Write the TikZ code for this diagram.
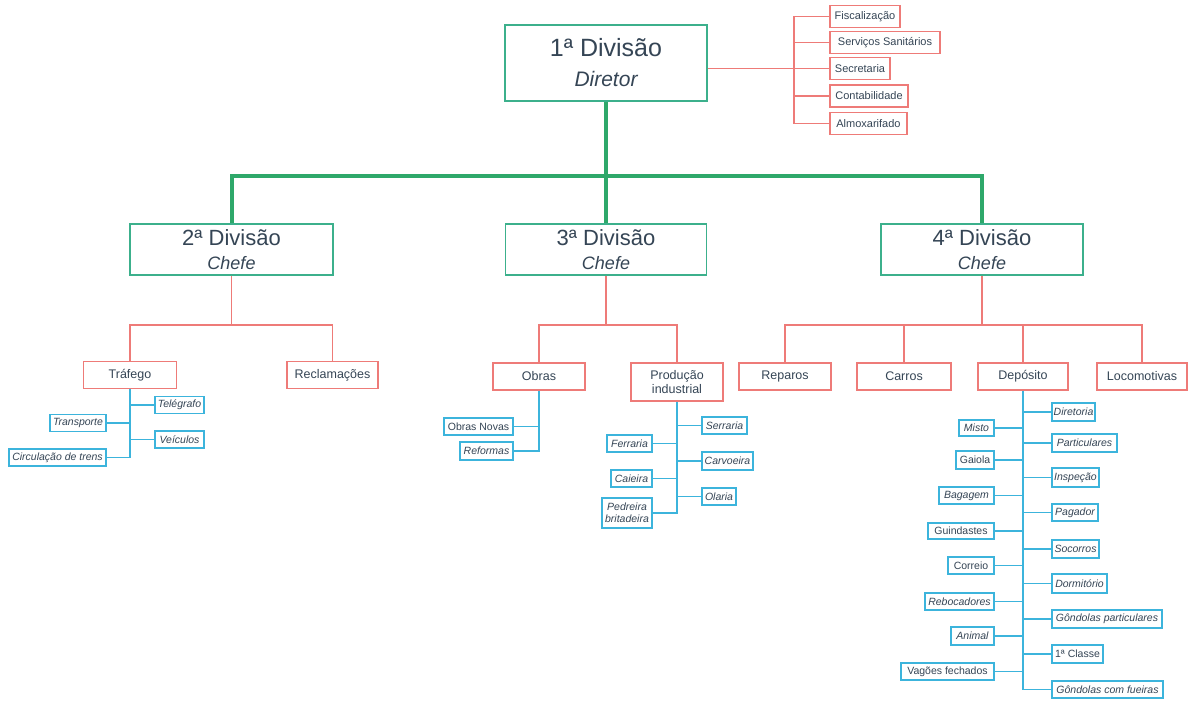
\documentclass[tikz,border=0pt]{standalone}
\usepackage{fontspec}
\setmainfont{Liberation Sans}
\definecolor{gline}{HTML}{2EA86A}
\definecolor{gbox}{HTML}{3CB08C}
\definecolor{redc}{HTML}{EE7B78}
\definecolor{bluec}{HTML}{3CB4DC}
\definecolor{txt}{HTML}{354555}
\tikzset{
  divbox/.style={draw=gbox, line width=1.2pt, fill=white, text=txt, align=center, inner sep=0pt},
  rbox/.style={draw=redc, line width=1.4pt, fill=white, text=txt, align=center, inner sep=0pt, minimum height=27pt, font=\fontsize{12.5}{14}\selectfont},
  sbox/.style={draw=redc, line width=1.2pt, fill=white, text=txt, inner sep=0pt, minimum height=22pt, font=\fontsize{11}{13}\selectfont},
  bx/.style={draw=bluec, line width=1.2pt, fill=white, text=txt, align=center, inner sep=0pt, minimum height=17pt, font=\fontsize{10.5}{12}\selectfont},
  it/.style={font=\fontsize{10.5}{12}\selectfont\itshape},
  gconn/.style={draw=gline, line width=4pt},
  rconn/.style={draw=redc, line width=1.5pt},
  bconn/.style={draw=bluec, line width=1.3pt},
}
\begin{document}
\begin{tikzpicture}[x=1pt,y=-1pt]
\useasboundingbox[fill=white] (0,0) rectangle (1189,705);
% top level
\node[divbox, minimum width=202pt, minimum height=76pt, font=\fontsize{25}{25}\selectfont] (b1) at (606,63)
  {1ª Divisão\\[5pt]{\fontsize{21}{21}\selectfont\itshape Diretor}};
\node[divbox, minimum width=203pt, minimum height=51pt, font=\fontsize{22}{22}\selectfont] (b2) at (231.5,249.5)
  {2ª Divisão\\[2pt]{\fontsize{18}{18}\selectfont\itshape Chefe}};
\node[divbox, minimum width=201pt, minimum height=51pt, font=\fontsize{22}{22}\selectfont] (b3) at (606,249.5)
  {3ª Divisão\\[2pt]{\fontsize{18}{18}\selectfont\itshape Chefe}};
\node[divbox, minimum width=202pt, minimum height=51pt, font=\fontsize{22}{22}\selectfont] (b4) at (982,249.5)
  {4ª Divisão\\[2pt]{\fontsize{18}{18}\selectfont\itshape Chefe}};
\coordinate (g1) at (606,176);
\draw[gconn] (b1.south) -- (g1);
\draw[gconn] (b2.north) |- (g1) -| (b4.north);
\draw[gconn] (g1) -- (b3.north);
% top right staff
\node[sbox, minimum width=70pt] (f1) at (865,16.5) {Fiscalização};
\node[sbox, minimum width=110pt] (f2) at (885,42.5) {Serviços Sanitários};
\node[sbox, minimum width=60pt] (f3) at (860,68.5) {Secretaria};
\node[sbox, minimum width=78pt] (f4) at (869,96) {Contabilidade};
\node[sbox, minimum width=77pt] (f5) at (868.5,123.5) {Almoxarifado};
\coordinate (sp) at (794,0);
\draw[rconn] (b1.east |- f3.west) -- (f3.west);
\draw[rconn] (f1.west) -- (f1.west -| sp) -- (f5.west -| sp) -- (f5.west);
\draw[rconn] (f2.west) -- (f2.west -| sp);
\draw[rconn] (f4.west) -- (f4.west -| sp);
% 2a division children
\node[rbox, minimum width=93pt] (traf) at (130,375) {Tráfego};
\node[rbox, minimum width=91pt] (recl) at (332.5,375) {Reclamações};
\coordinate (j2) at (231.5,325);
\draw[rconn] (b2.south) -- (j2);
\draw[rconn] (traf.north) |- (j2) -| (recl.north);
% 3a division children
\node[rbox, minimum width=92pt] (obr) at (539,376.5) {Obras};
\node[rbox, minimum width=92pt, minimum height=38pt] (prod) at (677,382) {Produção\\industrial};
\coordinate (j3) at (606,325);
\draw[rconn] (b3.south) -- (j3);
\draw[rconn] (obr.north) |- (j3) -| (prod.north);
% 4a division children
\node[rbox, minimum width=92pt] (rep) at (785,376.5) {Reparos};
\node[rbox, minimum width=94pt] (car) at (904,376.5) {Carros};
\node[rbox, minimum width=90pt] (dep) at (1023,376.5) {Depósito};
\node[rbox, minimum width=90pt] (loc) at (1142,376.5) {Locomotivas};
\coordinate (j4) at (982,325);
\draw[rconn] (b4.south) -- (j4);
\draw[rconn] (rep.north) |- (j4) -| (loc.north);
\draw[rconn] (car.north) -- (car.north |- j4);
\draw[rconn] (dep.north) -- (dep.north |- j4);
% Trafego subtree
\node[bx, it, minimum width=49pt] (tel) at (179.5,405) {Telégrafo};
\node[bx, it, minimum width=56pt] (tra) at (78,423) {Transporte};
\node[bx, it, minimum width=49pt] (vei) at (179.5,439.5) {Veículos};
\node[bx, it, minimum width=97pt] (cir) at (57.5,457.5) {Circulação de trens};
\draw[bconn] (traf.south) -- (traf.south |- cir.east) -- (cir.east);
\draw[bconn] (tel.west) -- (tel.west -| traf.south);
\draw[bconn] (tra.east) -- (tra.east -| traf.south);
\draw[bconn] (vei.west) -- (vei.west -| traf.south);
% Obras subtree
\node[bx, minimum width=69pt] (on) at (478.5,426.5) {Obras Novas};
\node[bx, it, minimum width=53pt, minimum height=18pt] (ref) at (486.5,451) {Reformas};
\draw[bconn] (obr.south) -- (obr.south |- ref.east) -- (ref.east);
\draw[bconn] (on.east) -- (on.east -| obr.south);
% Producao subtree
\node[bx, it, minimum width=45pt] (ser) at (724.5,425.5) {Serraria};
\node[bx, it, minimum width=45pt] (fer) at (629.5,443.5) {Ferraria};
\node[bx, it, minimum width=51pt, minimum height=18pt] (carv) at (727.5,461) {Carvoeira};
\node[bx, it, minimum width=41pt] (cai) at (631.5,478.5) {Caieira};
\node[bx, it, minimum width=34pt] (ola) at (719,496.5) {Olaria};
\node[bx, it, minimum width=50pt, minimum height=30pt] (ped) at (627,513) {Pedreira\\britadeira};
\draw[bconn] (prod.south) -- (prod.south |- ped.east) -- (ped.east);
\draw[bconn] (ser.west) -- (ser.west -| prod.south);
\draw[bconn] (fer.east) -- (fer.east -| prod.south);
\draw[bconn] (carv.west) -- (carv.west -| prod.south);
\draw[bconn] (cai.east) -- (cai.east -| prod.south);
\draw[bconn] (ola.west) -- (ola.west -| prod.south);
% Deposito subtree, right column
\node[bx, it, minimum width=43pt, minimum height=18pt] (d1) at (1073.5,412) {Diretoria};
\node[bx, it, minimum width=65pt, minimum height=18pt] (d2) at (1084.5,443) {Particulares};
\node[bx, it, minimum width=47pt, minimum height=19pt] (d3) at (1075.5,477.5) {Inspeção};
\node[bx, it, minimum width=46pt] (d4) at (1075,512.5) {Pagador};
\node[bx, it, minimum width=47pt, minimum height=18pt] (d5) at (1075.5,549) {Socorros};
\node[bx, it, minimum width=55pt, minimum height=19pt] (d6) at (1079.5,583.5) {Dormitório};
\node[bx, it, minimum width=110pt, minimum height=18pt] (d7) at (1107,619) {Gôndolas particulares};
\node[bx, minimum width=51pt, minimum height=18pt] (d8) at (1077.5,654) {1ª Classe};
\node[bx, it, minimum width=111pt] (d9) at (1107.5,689.5) {Gôndolas com fueiras};
% Deposito subtree, left column
\node[bx, it, minimum width=35pt, minimum height=16pt] (e1) at (976.5,428) {Misto};
\node[bx, minimum width=38pt, minimum height=18pt] (e2) at (975,460) {Gaiola};
\node[bx, it, minimum width=55pt] (e3) at (966.5,495.5) {Bagagem};
\node[bx, minimum width=66pt, minimum height=16pt] (e4) at (961,531) {Guindastes};
\node[bx, minimum width=46pt] (e5) at (971,565.5) {Correio};
\node[bx, it, minimum width=69pt] (e6) at (959.5,601.5) {Rebocadores};
\node[bx, it, minimum width=43pt, minimum height=18pt] (e7) at (972.5,636) {Animal};
\node[bx, minimum width=93pt] (e8) at (947.5,671.5) {Vagões fechados};
\draw[bconn] (dep.south) -- (dep.south |- d9.west) -- (d9.west);
\foreach \n in {d1,d2,d3,d4,d5,d6,d7,d8}
  \draw[bconn] (\n.west) -- (\n.west -| dep.south);
\foreach \n in {e1,e2,e3,e4,e5,e6,e7,e8}
  \draw[bconn] (\n.east) -- (\n.east -| dep.south);
\end{tikzpicture}
\end{document}
